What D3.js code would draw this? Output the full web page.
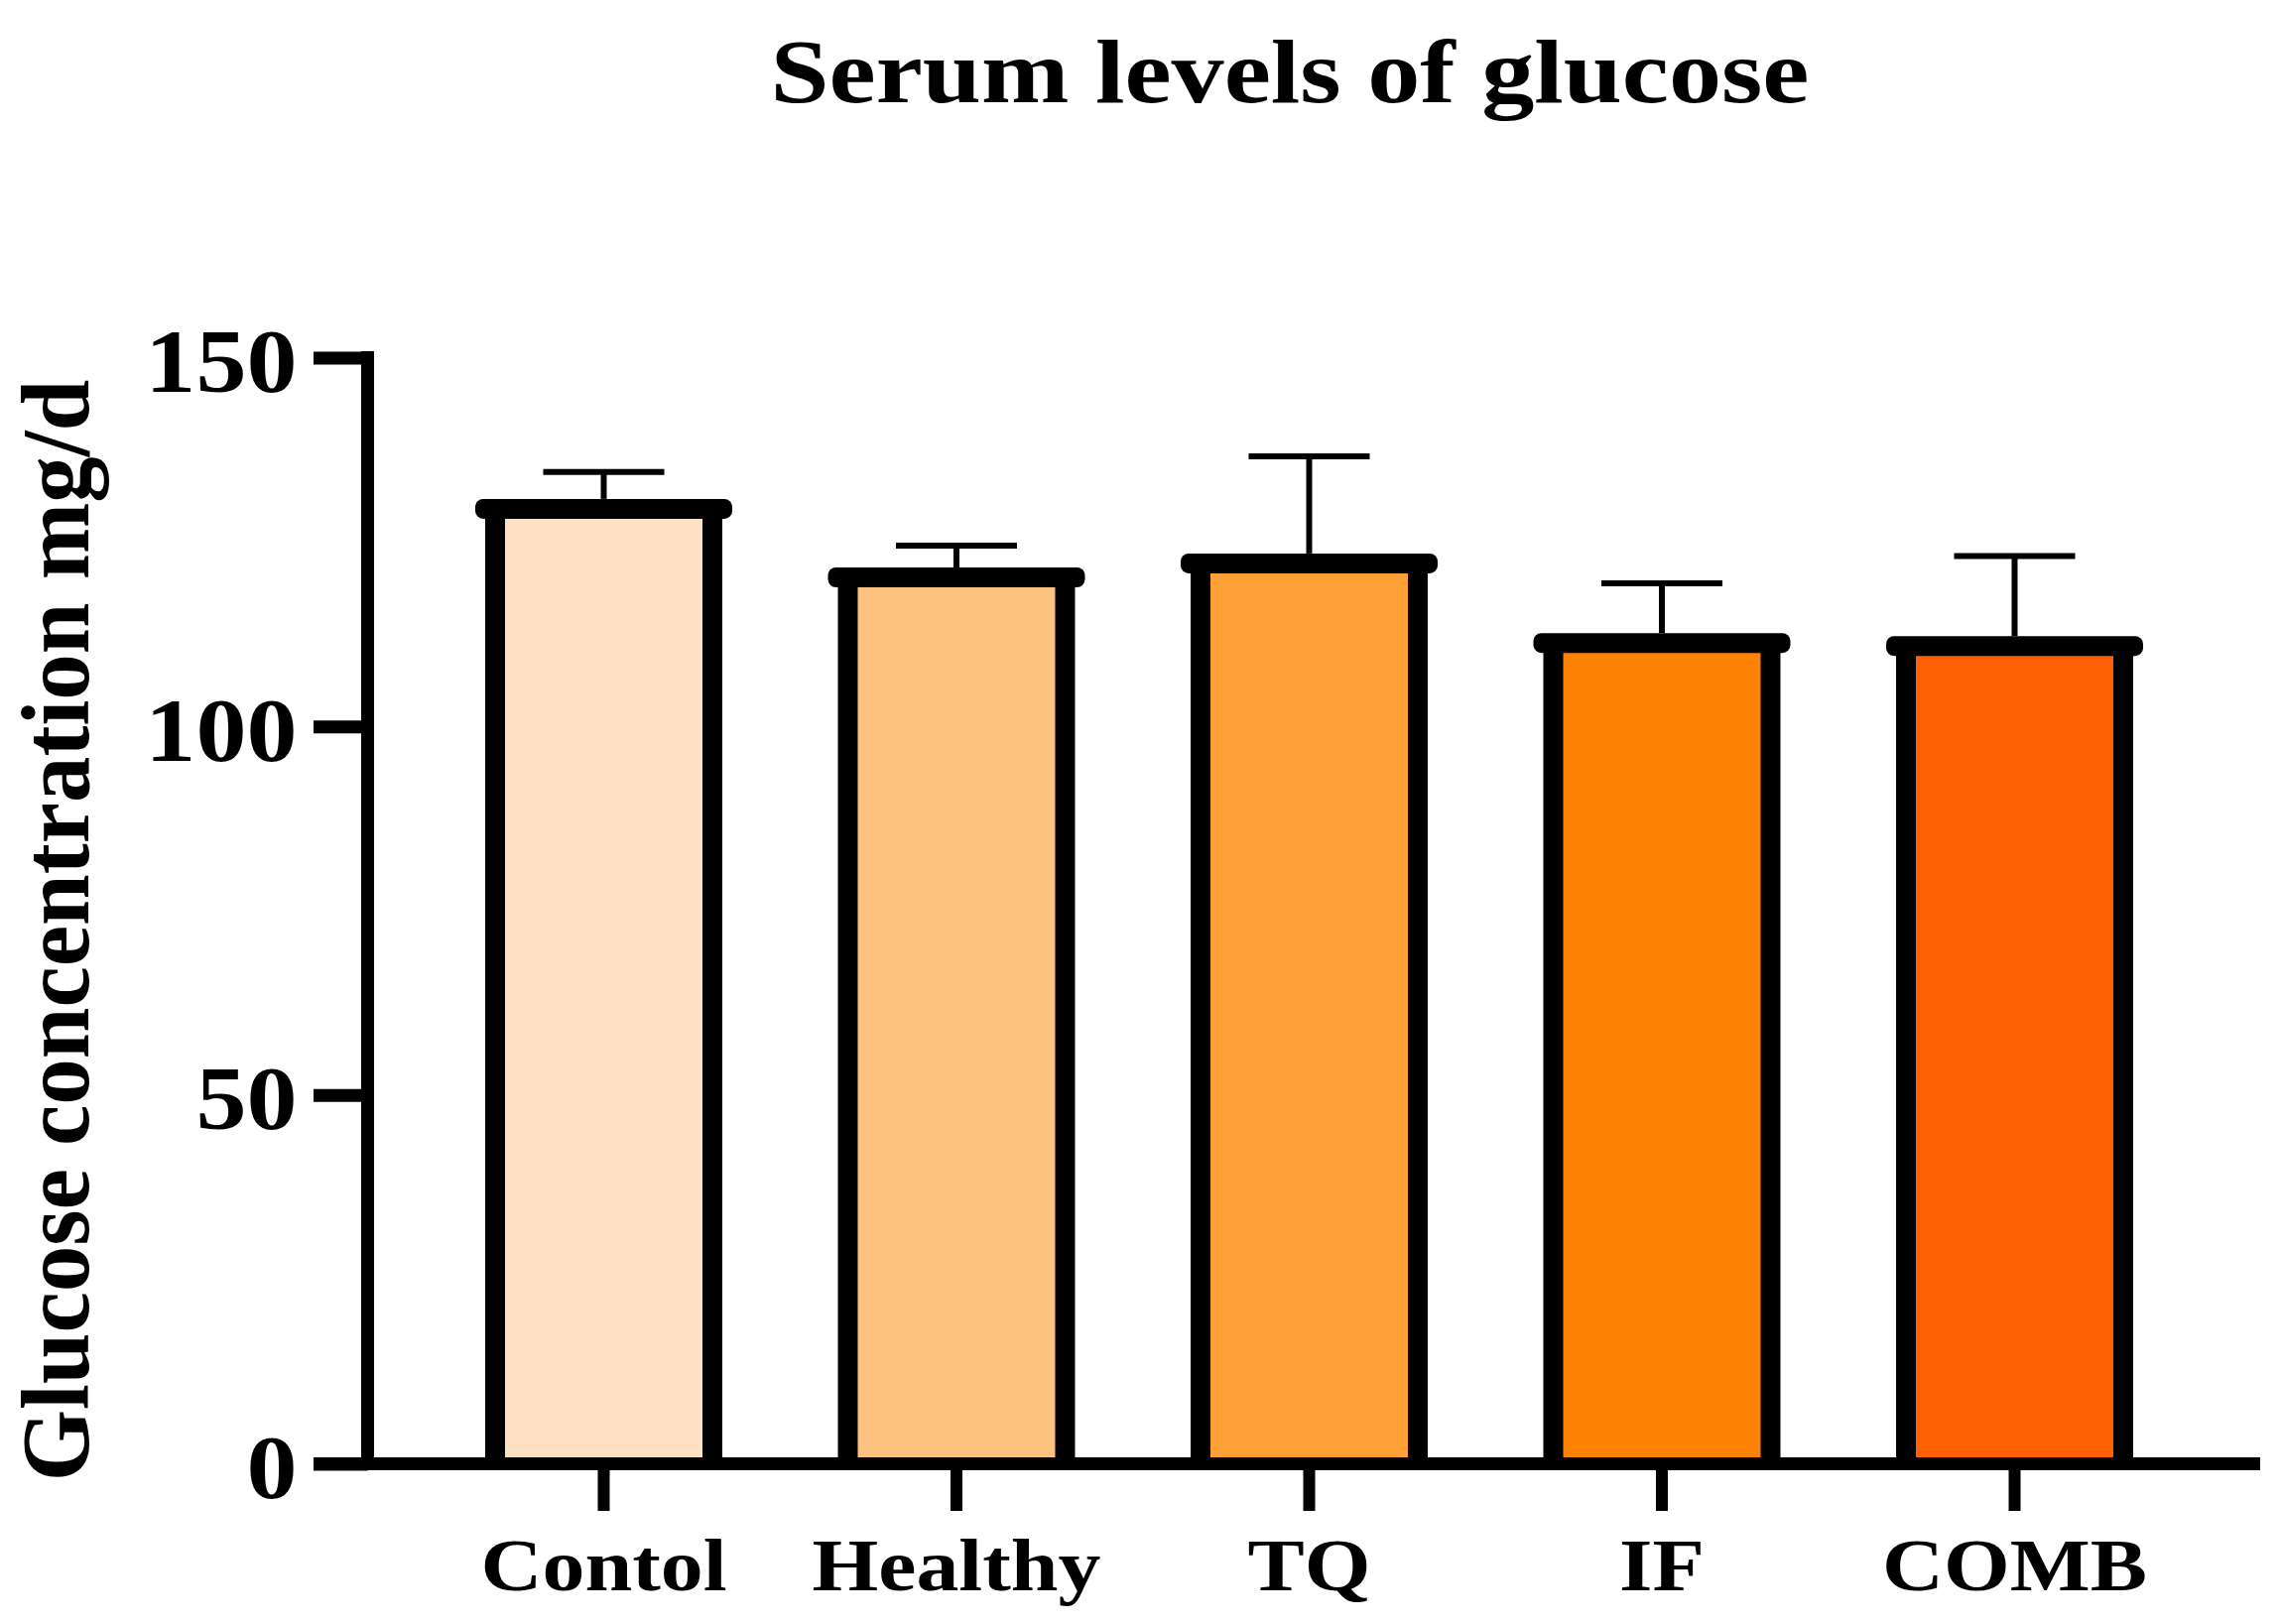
<!DOCTYPE html>
<html>
<head>
<meta charset="utf-8">
<script src="https://cdn.jsdelivr.net/npm/d3@7"></script>
<style>
  html, body { margin: 0; padding: 0; background: #fff; }
  svg { display: block; }
  text { font-family: "Liberation Serif", "Times New Roman", serif; font-weight: bold; fill: #000; }
</style>
</head>
<body>
<svg id="chart" width="2300" height="1637"></svg>
<script>
const categories = ["Contol", "Healthy", "TQ", "IF", "COMB"];
const means = [129.5, 120.2, 122.1, 111.3, 110.9];
const errors = [5.0, 4.3, 14.5, 8.1, 12.2];
const colors = ["#FEE0C2", "#FEC280", "#FEA035", "#FE8204", "#FE6004"];
const yTicks = [0, 50, 100, 150];
const titleText = "Serum levels of glucose";
const yLabelText = "Glucose concentration mg/d";

const svg = d3.select("#chart");

const y = d3.scaleLinear().domain([0, 150]).range([1475.5, 360.5]);
const x = d3.scaleBand().domain(categories)
  .range([430.75, 2208.25]).paddingInner(0.384).paddingOuter(0.192);
const bw = x.bandwidth();
const axisX = 370.5;

// Title
svg.append("text")
  .attr("transform", "translate(1300,103) scale(1.18,1)")
  .attr("text-anchor", "middle")
  .attr("font-size", 90)
  .text(titleText);

// Y label
svg.append("text")
  .attr("transform", "translate(89,938) scale(1.05,1) rotate(-90)")
  .attr("text-anchor", "middle")
  .attr("font-size", 93)
  .text(yLabelText);

// Bars
const bars = svg.append("g");
categories.forEach((c, i) => {
  const x0 = x(c);
  const g = bars.append("g");
  g.append("rect")
    .attr("x", x0).attr("y", y(means[i]))
    .attr("width", bw).attr("height", y(0) - y(means[i]))
    .attr("fill", colors[i]);
  g.append("line")
    .attr("x1", x0).attr("x2", x0)
    .attr("y1", y(means[i])).attr("y2", y(0))
    .attr("stroke", "#000").attr("stroke-width", 20);
  g.append("line")
    .attr("x1", x0 + bw).attr("x2", x0 + bw)
    .attr("y1", y(means[i])).attr("y2", y(0))
    .attr("stroke", "#000").attr("stroke-width", 20);
  g.append("rect")
    .attr("x", x0 - 20).attr("y", y(means[i]) - 10)
    .attr("width", bw + 40).attr("height", 20)
    .attr("rx", 8).attr("ry", 8)
    .attr("fill", "#000");
  const cx = x0 + bw / 2;
  g.append("line")
    .attr("x1", cx).attr("x2", cx)
    .attr("y1", y(means[i]) - 10).attr("y2", y(means[i] + errors[i]))
    .attr("stroke", "#000").attr("stroke-width", 6);
  g.append("line")
    .attr("x1", cx - 61).attr("x2", cx + 61)
    .attr("y1", y(means[i] + errors[i])).attr("y2", y(means[i] + errors[i]))
    .attr("stroke", "#000").attr("stroke-width", 6);
});

// Baseline
svg.append("line")
  .attr("x1", 316).attr("x2", 2278)
  .attr("y1", y(0)).attr("y2", y(0))
  .attr("stroke", "#000").attr("stroke-width", 13);

// Y axis
const yAxis = svg.append("g")
  .attr("transform", `translate(${axisX},0)`)
  .call(d3.axisLeft(y).tickValues(yTicks).tickSize(54.5).tickSizeOuter(0).tickPadding(17));
yAxis.attr("font-family", null).attr("font-size", null);
yAxis.select(".domain")
  .attr("stroke", "#000").attr("stroke-width", 13).attr("stroke-linecap", "square")
  .attr("d", `M0,${y(150)}V${y(0)}`);
yAxis.selectAll(".tick line").attr("stroke", "#000").attr("stroke-width", 13);
yAxis.selectAll(".tick text")
  .attr("x", null).attr("dy", null)
  .attr("transform", "translate(-71,34) scale(1.11,1)")
  .attr("font-size", 92)
  .attr("text-anchor", "end");

// X axis
const xAxis = svg.append("g")
  .attr("transform", `translate(0,${y(0)})`)
  .call(d3.axisBottom(x).tickSize(47.5).tickSizeOuter(0).tickPadding(0));
xAxis.attr("font-family", null).attr("font-size", null);
xAxis.select(".domain").remove();
xAxis.selectAll(".tick line").attr("stroke", "#000").attr("stroke-width", 12);
xAxis.selectAll(".tick text")
  .attr("y", null).attr("dy", null)
  .attr("transform", "translate(0,127.5) scale(1.16,1)")
  .attr("font-size", 74)
  .attr("text-anchor", "middle");
</script>
</body>
</html>
